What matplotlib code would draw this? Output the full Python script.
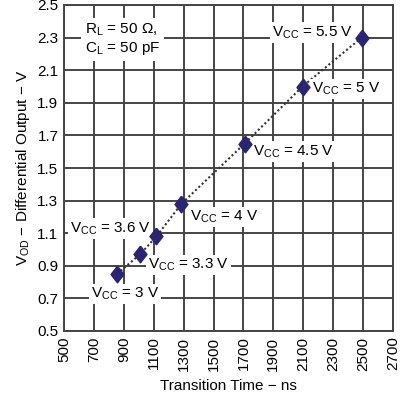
import matplotlib
matplotlib.use("Agg")
import matplotlib.pyplot as plt

plt.rcParams['font.family'] = ['Liberation Sans', 'DejaVu Sans']
plt.rcParams['mathtext.default'] = 'regular'

# data
vcc_labels = ["3", "3.3", "3.6", "4", "4.5", "5", "5.5"]
transition_ns = [855, 1008, 1118, 1285, 1708, 2095, 2490]
vod = [0.85, 0.97, 1.08, 1.28, 1.65, 2.0, 2.3]

# label anchor (x, y, ha) per point
label_pos = [
    (680, 0.727, "left"),
    (1062, 0.905, "left"),
    (1080, 1.13, "right"),
    (1343, 1.20, "left"),
    (1764, 1.60, "left"),
    (2157, 1.985, "left"),
    (2435, 2.33, "right"),
]

fig = plt.figure(figsize=(4, 3.94), dpi=100)
ax = fig.add_axes([64 / 400, 63 / 394, 329 / 400, 326 / 394])

ax.set_xlim(500, 2700)
ax.set_ylim(0.5, 2.5)
ax.set_xticks(range(500, 2701, 200))
ax.set_yticks([0.5 + 0.2 * i for i in range(11)])
ax.set_yticklabels([f"{0.5 + 0.2 * i:.1f}" for i in range(11)])
ax.tick_params(axis="x", labelrotation=90, length=0, labelsize=11, pad=4)
ax.tick_params(axis="y", length=0, labelsize=11, pad=4)
ax.grid(True, color="#454545", linewidth=1.4)
ax.set_axisbelow(True)
for s in ax.spines.values():
    s.set_color("#454545")
    s.set_linewidth(1.4)

diamond = [(0, 1), (0.78, 0), (0, -1), (-0.78, 0), (0, 1)]
ax.plot(transition_ns, vod, linestyle=(0, (1, 1.2)), color="#333333", linewidth=1.5, zorder=3)
ax.plot(transition_ns, vod, linestyle="none", marker=diamond, markersize=12,
        color="#2b2570", zorder=7)

for v, (lx, ly, ha) in zip(vcc_labels, label_pos):
    ax.text(lx, ly, f"V$_{{CC}}$ = {v} V", ha=ha, va="center", fontsize=11,
            bbox=dict(facecolor="white", edgecolor="none", pad=1.5), zorder=5)

ax.text(640, 2.29, "R$_L$ = 50 \u03a9,\nC$_L$ = 50 pF", ha="left", va="center",
        fontsize=11, linespacing=1.2,
        bbox=dict(facecolor="white", edgecolor="none", pad=3), zorder=5)

ax.set_xlabel("Transition Time \u2212 ns", fontsize=11, labelpad=6)
ax.set_ylabel("V$_{OD}$ \u2212 Differential Output \u2212 V", fontsize=11, labelpad=4)

fig.savefig("out.png", dpi=100)
